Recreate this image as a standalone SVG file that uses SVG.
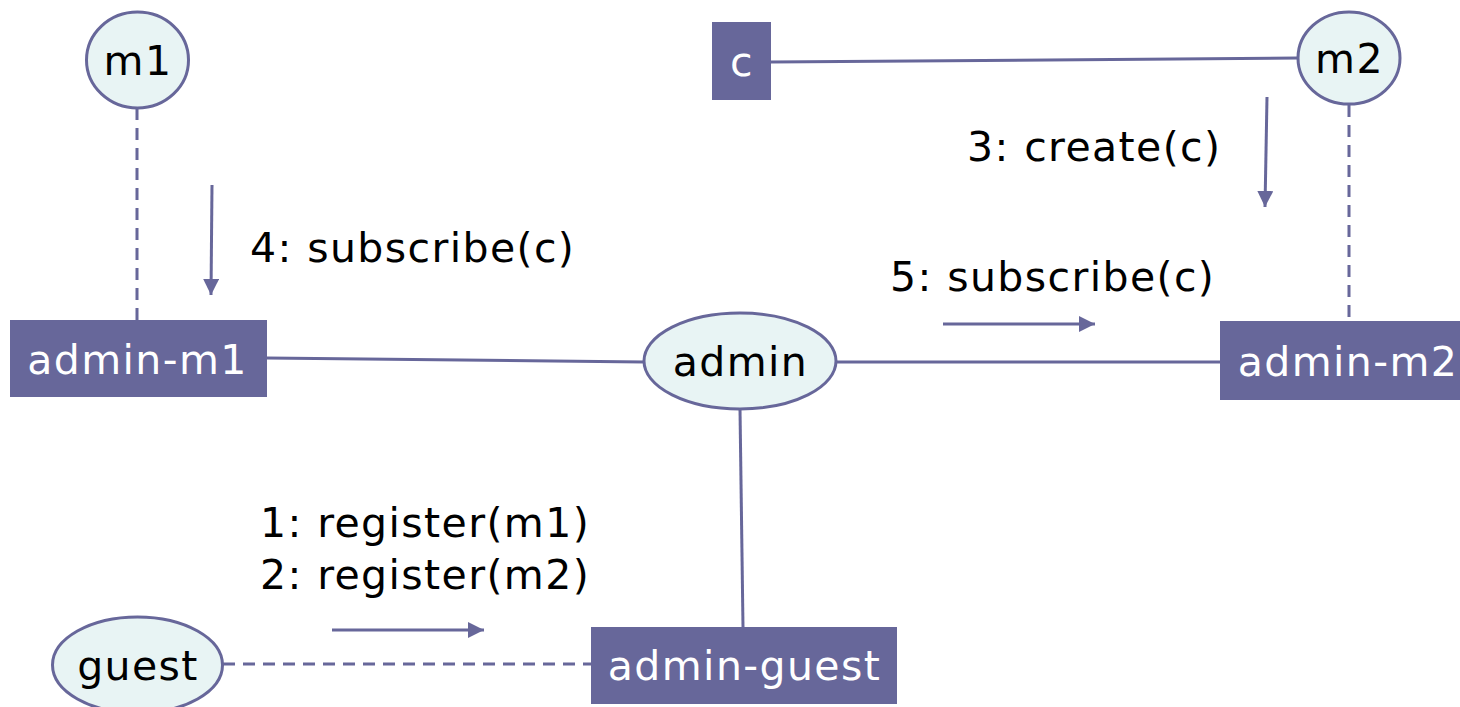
<svg xmlns="http://www.w3.org/2000/svg" width="1460" height="707" viewBox="0 0 1460 707">
  <style>
    .obj { fill: #e8f4f4; stroke: #67679a; stroke-width: 3; }
    .box { fill: #67679a; }
    .link { stroke: #67679a; stroke-width: 3; fill: none; }
    .dash { stroke: #67679a; stroke-width: 3; fill: none; stroke-dasharray: 12 8; }
    .msg { stroke: #67679a; stroke-width: 3; fill: none; marker-end: url(#head); }
    .lbl { font-family: "DejaVu Sans", Verdana, sans-serif; font-size: 41px; letter-spacing: 1.4px; fill: #000; }
    .wlbl { font-family: "DejaVu Sans", Verdana, sans-serif; font-size: 41px; letter-spacing: 1.4px; fill: #fff; text-anchor: middle; }
    .ctr { text-anchor: middle; }
  </style>
  <defs>
    <marker id="head" viewBox="0 0 10 10" refX="10" refY="5" markerWidth="16" markerHeight="16" orient="auto" markerUnits="userSpaceOnUse">
      <path d="M0,0 L10,5 L0,10 z" fill="#67679a"/>
    </marker>
  </defs>
  <rect width="1460" height="707" fill="#fff"/>

  <g id="connectors">
    <line class="dash" x1="137" y1="108" x2="137" y2="320"/>
    <line class="link" x1="267" y1="358" x2="644" y2="362"/>
    <line class="link" x1="836" y1="362" x2="1220" y2="362"/>
    <line class="link" x1="771" y1="62" x2="1298" y2="58"/>
    <line class="dash" x1="1349" y1="105" x2="1349" y2="321"/>
    <line class="link" x1="740" y1="409" x2="743" y2="627"/>
    <line class="dash" x1="223" y1="664" x2="591" y2="664"/>
    <!-- message arrows -->
    <line class="msg" x1="212" y1="185" x2="211" y2="295"/>
    <line class="msg" x1="1267" y1="97" x2="1265" y2="207"/>
    <line class="msg" x1="943" y1="324" x2="1095" y2="324"/>
    <line class="msg" x1="332" y1="630" x2="484" y2="630"/>
  </g>

  <g id="m1">
    <ellipse class="obj" cx="137.5" cy="60" rx="51" ry="48"/>
    <text class="lbl ctr" x="138" y="75">m1</text>
  </g>
  <g id="admin-m1">
    <rect class="box" x="10" y="320" width="257" height="77"/>
    <text class="wlbl" x="137.5" y="374">admin-m1</text>
  </g>
  <g id="admin">
    <ellipse class="obj" cx="740" cy="361" rx="96" ry="48"/>
    <text class="lbl ctr" x="740.5" y="376">admin</text>
  </g>
  <g id="admin-m2">
    <rect class="box" x="1220" y="321" width="242" height="79"/>
    <text class="wlbl" x="1348" y="376">admin-m2</text>
  </g>
  <g id="c">
    <rect class="box" x="712" y="22" width="59" height="78"/>
    <text class="wlbl" x="742" y="76">c</text>
  </g>
  <g id="m2">
    <ellipse class="obj" cx="1349" cy="58" rx="51" ry="46"/>
    <text class="lbl ctr" x="1349.5" y="73">m2</text>
  </g>
  <g id="admin-guest">
    <rect class="box" x="591" y="627" width="306" height="77"/>
    <text class="wlbl" x="744.5" y="680">admin-guest</text>
  </g>
  <g id="guest">
    <ellipse class="obj" cx="137.5" cy="665" rx="85" ry="48"/>
    <text class="lbl ctr" x="138" y="680">guest</text>
  </g>

  <g id="labels">
    <text class="lbl" x="250" y="262">4: subscribe(c)</text>
    <text class="lbl" x="967" y="161">3: create(c)</text>
    <text class="lbl" x="890" y="291">5: subscribe(c)</text>
    <text class="lbl" x="260" y="537">1: register(m1)</text>
    <text class="lbl" x="260" y="589">2: register(m2)</text>
  </g>
</svg>
